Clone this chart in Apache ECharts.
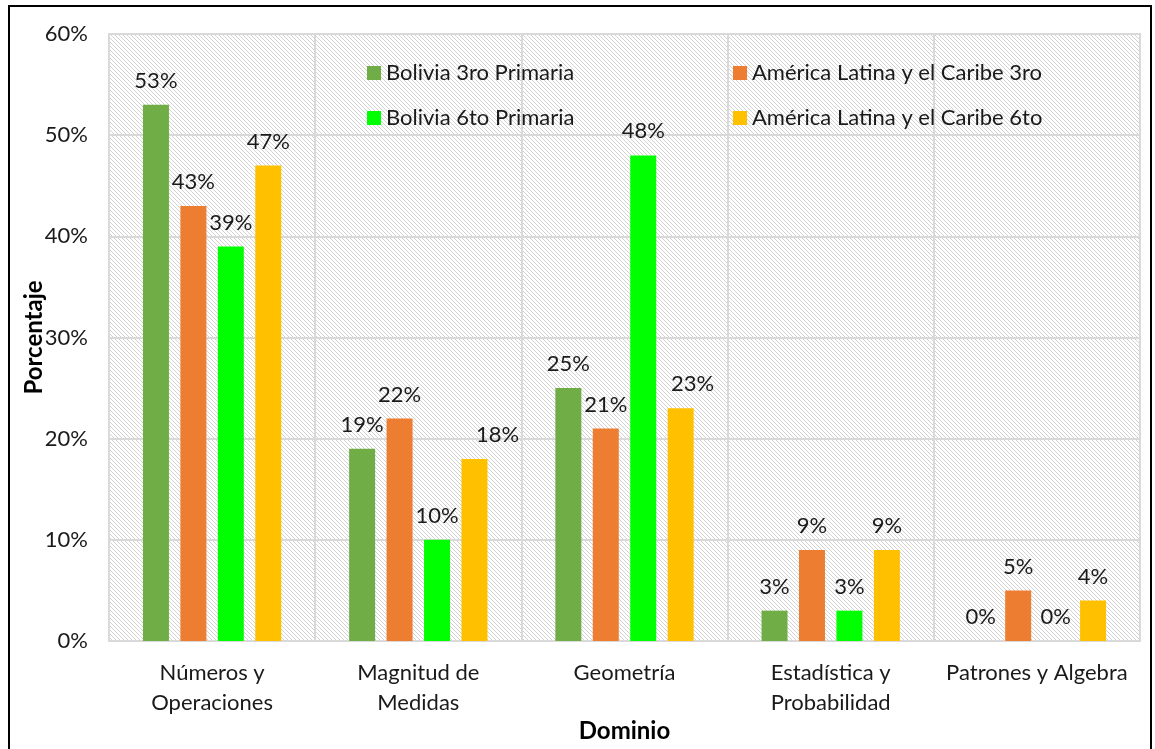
<!DOCTYPE html>
<html>
<head>
<meta charset="utf-8">
<title>Dominio - Porcentaje</title>
<script src="https://cdn.jsdelivr.net/npm/echarts@6/dist/echarts.min.js"></script>
<style>
    html, body { margin: 0; padding: 0; background: #fff; }
    #chart { width: 1155px; height: 749px; }
</style>
</head>
<body>
<div id="chart"></div>
<script>
/* datos del grafico */
var categorias = ['Números y\nOperaciones', 'Magnitud de\nMedidas', 'Geometría', 'Estadística y\nProbabilidad', 'Patrones y Algebra'];
var nombres = ['Bolivia 3ro Primaria', 'América Latina y el Caribe 3ro', 'Bolivia 6to Primaria', 'América Latina y el Caribe 6to'];
var bolivia3 = [53, 19, 25, 3, 0];
var latam3 = [43, 22, 21, 9, 5];
var bolivia6 = [39, 10, 48, 3, 0];
var latam6 = [47, 18, 23, 9, 4];
var ticksY = [0, 10, 20, 30, 40, 50, 60];

var colores = ['#70AD47', '#ED7D31', '#00FF00', '#FFC000'];
var fuente = 'Lato, "Liberation Sans", sans-serif';

/* etiquetas que en el original estan corridas a la derecha: serie-categoria */
var corrimiento = { '3-1': [23, 0], '3-2': [12, 0] };

/* fondo rayado del area de trazado */
function patronRayado() {
    var n = 4;
    var c = document.createElement('canvas');
    c.width = n; c.height = n;
    var ctx = c.getContext('2d');
    ctx.fillStyle = '#ffffff';
    ctx.fillRect(0, 0, n, n);
    ctx.fillStyle = '#d2d2d2';
    for (var i = 0; i < n; i++) {
        ctx.fillRect(i, i, 1, 1);
    }
    return { image: c, repeat: 'repeat' };
}

function serieBarras(idx, valores) {
    var datos = [];
    for (var i = 0; i < valores.length; i++) {
        var off = corrimiento[idx + '-' + i];
        if (off) {
            datos.push({ value: valores[i], label: { offset: off } });
        } else {
            datos.push(valores[i]);
        }
    }
    return {
        name: nombres[idx],
        type: 'bar',
        barWidth: 26,
        barGap: '44%',
        itemStyle: { color: colores[idx] },
        label: {
            show: true,
            position: 'top',
            distance: 13,
            formatter: '{c}%',
            fontFamily: fuente,
            fontSize: 22,
            color: '#1a1a1a'
        },
        data: datos
    };
}

var myChart = echarts.init(document.getElementById('chart'));

var estiloLeyenda = { fontFamily: fuente, fontSize: 22, lineHeight: 24, color: '#1a1a1a' };

var option = {
    backgroundColor: '#ffffff',
    animation: false,
    textStyle: { fontFamily: fuente },
    graphic: [{
        type: 'rect',
        shape: { x: 9, y: 6, width: 1142, height: 800 },
        style: { fill: 'none', stroke: '#000000', lineWidth: 2 },
        silent: true
    }],
    legend: [{
        data: [nombres[0], nombres[2]],
        orient: 'vertical',
        left: 367,
        top: 61,
        padding: 0,
        icon: 'rect',
        itemWidth: 14,
        itemHeight: 14,
        itemGap: 21,
        itemStyle: { borderWidth: 0 },
        textStyle: estiloLeyenda
    }, {
        data: [nombres[1], nombres[3]],
        orient: 'vertical',
        left: 733,
        top: 61,
        padding: 0,
        icon: 'rect',
        itemWidth: 14,
        itemHeight: 14,
        itemGap: 21,
        itemStyle: { borderWidth: 0 },
        textStyle: estiloLeyenda
    }],
    grid: {
        left: 109,
        right: 15,
        top: 34,
        bottom: 108,
        outerBoundsMode: 'none',
        show: true,
        backgroundColor: patronRayado(),
        borderColor: '#d9d9d9',
        borderWidth: 2
    },
    xAxis: {
        type: 'category',
        data: categorias,
        name: 'Dominio',
        nameLocation: 'middle',
        nameGap: 78,
        nameMoveOverlap: false,
        nameTextStyle: { fontFamily: fuente, fontSize: 24, fontWeight: 'bold', color: '#000' },
        axisLine: { show: true, lineStyle: { color: '#d9d9d9', width: 2 } },
        axisTick: { show: false },
        splitLine: { show: true, lineStyle: { color: '#d9d9d9', width: 2 } },
        axisLabel: {
            interval: 0,
            margin: 17,
            fontFamily: fuente,
            fontSize: 22,
            lineHeight: 30,
            color: '#1a1a1a'
        }
    },
    yAxis: {
        type: 'value',
        min: ticksY[0],
        max: ticksY[ticksY.length - 1],
        interval: 10,
        name: 'Porcentaje',
        nameLocation: 'middle',
        nameGap: 63,
        nameMoveOverlap: false,
        nameTextStyle: { fontFamily: fuente, fontSize: 24, fontWeight: 'bold', color: '#000' },
        axisLine: { show: false },
        axisTick: { show: false },
        splitLine: { show: true, lineStyle: { color: '#d9d9d9', width: 2 } },
        axisLabel: {
            margin: 21,
            formatter: '{value}%',
            fontFamily: fuente,
            fontSize: 22,
            color: '#1a1a1a'
        }
    },
    series: [
        serieBarras(0, bolivia3),
        serieBarras(1, latam3),
        serieBarras(2, bolivia6),
        serieBarras(3, latam6)
    ]
};

myChart.setOption(option);
</script>
</body>
</html>
